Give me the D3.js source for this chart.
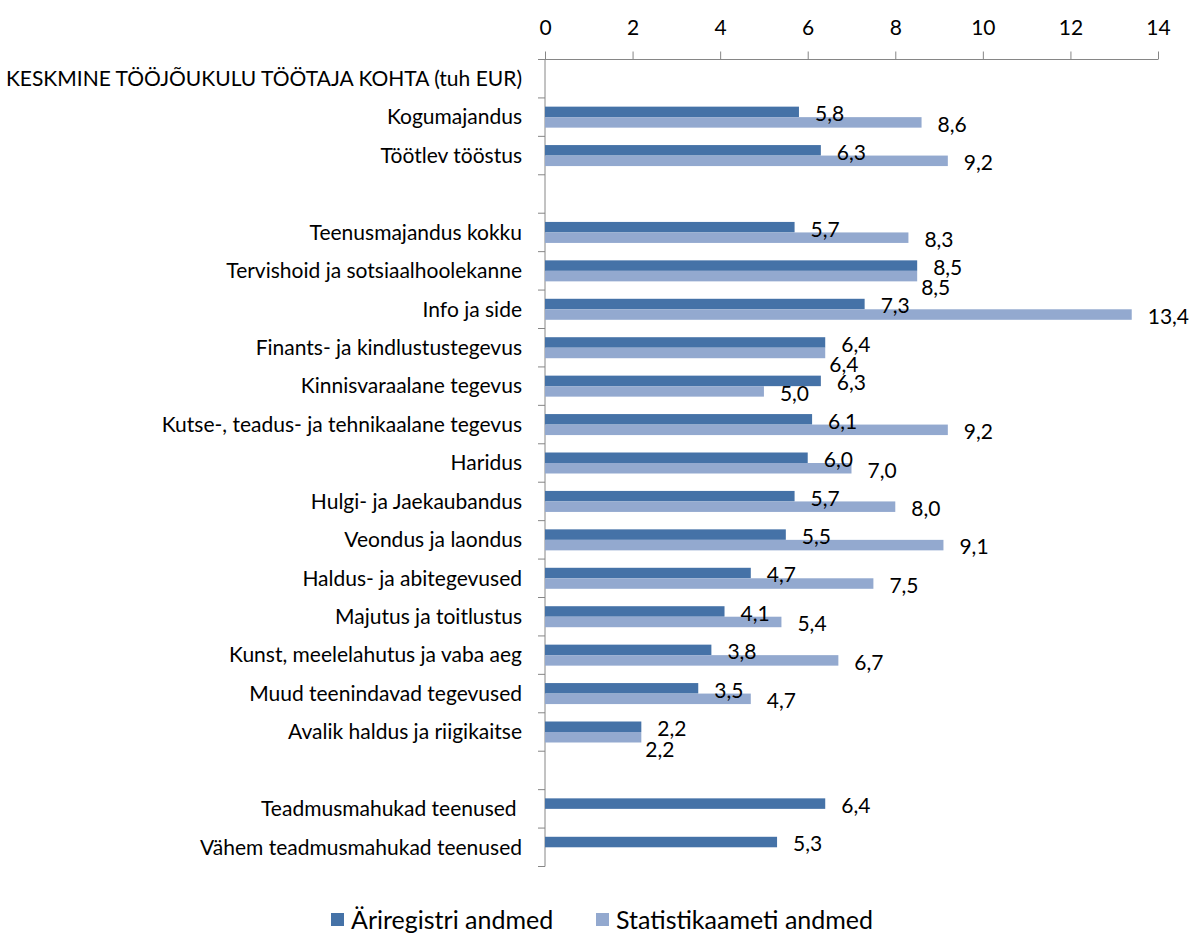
<!DOCTYPE html>
<html>
<head>
<meta charset="utf-8">
<script src="https://cdn.jsdelivr.net/npm/d3@7"></script>
<style>
  body { margin: 0; background: #fff; }
  text { font-family: Lato, "Open Sans", sans-serif; fill: #000; }
</style>
</head>
<body>
<div id="chart"></div>
<script>
// row labels, top to bottom (empty strings are spacer rows)
var categories = [
  "KESKMINE TÖÖJÕUKULU TÖÖTAJA KOHTA (tuh EUR)",
  "Kogumajandus",
  "Töötlev tööstus",
  "",
  "Teenusmajandus kokku",
  "Tervishoid ja sotsiaalhoolekanne",
  "Info ja side",
  "Finants- ja kindlustustegevus",
  "Kinnisvaraalane tegevus",
  "Kutse-, teadus- ja tehnikaalane tegevus",
  "Haridus",
  "Hulgi- ja Jaekaubandus",
  "Veondus ja laondus",
  "Haldus- ja abitegevused",
  "Majutus ja toitlustus",
  "Kunst, meelelahutus ja vaba aeg",
  "Muud teenindavad tegevused",
  "Avalik haldus ja riigikaitse",
  "",
  "Teadmusmahukad teenused ",
  "Vähem teadmusmahukad teenused"
];

var ariregister = [null, 5.8, 6.3, null, 5.7, 8.5, 7.3, 6.4, 6.3, 6.1, 6.0, 5.7, 5.5, 4.7, 4.1, 3.8, 3.5, 2.2, null, 6.4, 5.3];
var statistika = [null, 8.6, 9.2, null, 8.3, 8.5, 13.4, 6.4, 5.0, 9.2, 7.0, 8.0, 9.1, 7.5, 5.4, 6.7, 4.7, 2.2, null, null, null];

var seriesNames = ["Äriregistri andmed", "Statistikaameti andmed"];
var xTicks = [0, 2, 4, 6, 8, 10, 12, 14];

var colors = ["#4572a7", "#93a9cf"];

var width = 1198,
  height = 934;
var plotLeft = 545,
  plotRight = 1158,
  plotTop = 59.5,
  plotBottom = 866.5;

var svg = d3
  .select("#chart")
  .append("svg")
  .attr("width", width)
  .attr("height", height);

var x = d3.scaleLinear().domain([0, 14]).range([plotLeft, plotRight]);

var y = d3
  .scaleBand()
  .domain(d3.range(categories.length))
  .range([plotTop, plotBottom])
  .paddingInner(0)
  .paddingOuter(0);

var bandH = y.bandwidth();
var barH = 10.5;

// top axis
var xAxis = svg
  .append("g")
  .attr("transform", "translate(0," + plotTop + ")")
  .call(d3.axisTop(x).tickValues(xTicks).tickSize(8).tickPadding(17));
xAxis.select(".domain").attr("stroke", "#868686").attr("d", "M" + plotLeft + ",0H" + plotRight);
xAxis.selectAll(".tick line").attr("stroke", "#868686");
xAxis
  .selectAll(".tick text")
  .style("font-size", "21px")
  .style("font-family", "Lato, sans-serif")
  .attr("fill", "#000");

// left axis line with a tick at each row boundary
var yAxis = svg.append("g");
yAxis
  .append("line")
  .attr("x1", plotLeft)
  .attr("x2", plotLeft)
  .attr("y1", plotTop)
  .attr("y2", plotBottom)
  .attr("stroke", "#868686");
yAxis
  .selectAll("line.tick")
  .data(d3.range(categories.length + 1))
  .enter()
  .append("line")
  .attr("class", "tick")
  .attr("x1", plotLeft - 7)
  .attr("x2", plotLeft)
  .attr("y1", function(i) {
    return i < categories.length ? y(i) : plotBottom;
  })
  .attr("y2", function(i) {
    return i < categories.length ? y(i) : plotBottom;
  })
  .attr("stroke", "#868686");

// category labels
svg
  .append("g")
  .selectAll("text")
  .data(categories)
  .enter()
  .append("text")
  .attr("x", plotLeft - 23)
  .attr("y", function(d, i) {
    return y(i) + bandH / 2;
  })
  .attr("dy", "0.35em")
  .attr("text-anchor", "end")
  .style("font-size", "21px")
  .style("white-space", "pre")
  .text(function(d) {
    return d;
  });

var fmt = function(v) {
  return v.toFixed(1).replace(".", ",");
};

var seriesRows = [ariregister, statistika].map(function(values) {
  return values
    .map(function(v, i) {
      return { v: v, i: i };
    })
    .filter(function(d) {
      return d.v !== null;
    });
});

// bars first, so that all value labels sit on top
var barLayer = svg.append("g");
var labelLayer = svg.append("g");

seriesRows.forEach(function(rows, s) {
  barLayer
    .append("g")
    .selectAll("rect")
    .data(rows)
    .enter()
    .append("rect")
    .attr("x", x(0))
    .attr("y", function(d) {
      return y(d.i) + bandH / 2 - barH + s * barH;
    })
    .attr("width", function(d) {
      return x(d.v) - x(0);
    })
    .attr("height", barH)
    .attr("fill", colors[s]);

  labelLayer
    .append("g")
    .selectAll("text")
    .data(rows)
    .enter()
    .append("text")
    .attr("x", function(d) {
      var xx = x(d.v) + 16;
      // equal values: the second label is nudged left and down
      if (s === 1 && Math.abs(ariregister[d.i] - d.v) < 0.05) xx -= 12;
      return xx;
    })
    .attr("y", function(d) {
      var yy = y(d.i) + bandH / 2 - barH / 2 + s * barH + 2;
      if (s === 1 && Math.abs(ariregister[d.i] - d.v) < 0.05) yy += 10;
      return yy;
    })
    .attr("dy", "0.35em")
    .style("font-size", "21px")
    .text(function(d) {
      return fmt(d.v);
    });
});

// legend
var legend = svg.append("g").attr("transform", "translate(331,920)");
var legendX = [0, 265];
seriesNames.forEach(function(name, s) {
  legend
    .append("rect")
    .attr("x", legendX[s])
    .attr("y", -7)
    .attr("width", 13)
    .attr("height", 13)
    .attr("fill", colors[s]);
  legend
    .append("text")
    .attr("x", legendX[s] + 20)
    .attr("y", 0)
    .attr("dy", "0.35em")
    .style("font-size", "25px")
    .text(name);
});
</script>
</body>
</html>
